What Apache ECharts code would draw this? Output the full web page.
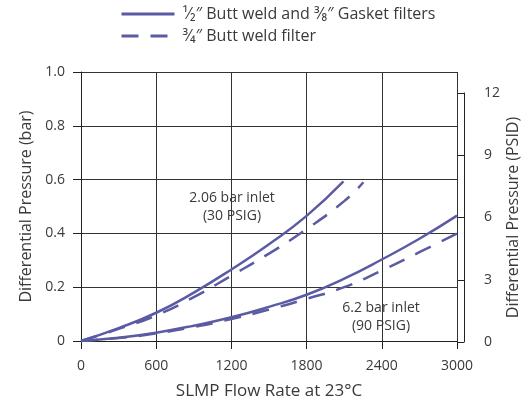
<!DOCTYPE html>
<html lang="en">
<head>
<meta charset="UTF-8">
<title>Differential Pressure vs Flow</title>
<style type="text/css">
	html, body { margin: 0; padding: 0; background: #fff; }
	#chart { width: 530px; height: 405px; }
</style>
</head>
<body>
<div id="chart"></div>
<script type="text/javascript" src="https://cdn.jsdelivr.net/npm/echarts@6/dist/echarts.min.js"></script>
<script type="text/javascript">
// legend names
var nameSolid = '¹⁄₂″ Butt weld and ³⁄₈″ Gasket filters';
var nameDashed = '³⁄₄″ Butt weld filter';

// 2.06 bar inlet (30 PSIG)
var low30Flow = [0, 300, 600, 900, 1200, 1500, 1800, 2094];
var low30Bar = [0, 0.048, 0.105, 0.18, 0.266, 0.36, 0.465, 0.593];
var low30DashFlow = [0, 300, 600, 900, 1200, 1500, 1800, 2100, 2253];
var low30DashBar = [0, 0.045, 0.095, 0.163, 0.243, 0.325, 0.416, 0.52, 0.59];

// 6.2 bar inlet (90 PSIG)
var high90Flow = [0, 300, 600, 900, 1200, 1500, 1800, 2100, 2400, 2700, 3000];
var high90Bar = [0, 0.012, 0.031, 0.057, 0.088, 0.127, 0.172, 0.232, 0.303, 0.38, 0.466];
var high90DashFlow = [0, 300, 600, 900, 1200, 1500, 1800, 2100, 2400, 2700, 3000];
var high90DashBar = [0, 0.011, 0.028, 0.052, 0.082, 0.117, 0.157, 0.2, 0.262, 0.33, 0.40];

var psidTicks = [0, 3, 6, 9, 12];

var lineColor = '#5b5ba3';
var textColor = '#3a3a3a';
var font = 'Open Sans';

function pairs(xs, ys) {
	var out = [];
	for (var i = 0; i < xs.length; i++) {
		out.push([xs[i], ys[i]]);
	}
	return out;
}

function curve(name, xs, ys, dashed) {
	return {
		name: name,
		type: 'line',
		xAxisIndex: 0,
		yAxisIndex: 0,
		smooth: true,
		symbol: 'none',
		data: pairs(xs, ys),
		lineStyle: { color: lineColor, width: 2.5, type: dashed ? [17, 12] : 'solid' },
		itemStyle: { color: lineColor }
	};
}

// centred annotation text
function label(text, x, y) {
	return {
		type: 'text',
		x: x,
		y: y,
		style: { text: text, fontSize: 14, fontFamily: font, fill: textColor, textAlign: 'center', textVerticalAlign: 'middle' }
	};
}

var myChart = echarts.init(document.getElementById('chart'));

var option = {
	animation: false,
	textStyle: { fontFamily: font, color: textColor },
	legend: {
		orient: 'vertical',
		left: 115,
		top: 1,
		itemWidth: 53,
		itemHeight: 14,
		itemGap: 6,
		itemStyle: { opacity: 0 },
		lineStyle: { width: 3 },
		data: [nameSolid, nameDashed],
		textStyle: { fontFamily: font, fontSize: 16, color: textColor, padding: [0, 0, 0, 3] }
	},
	grid: [
		{ left: 81, right: 73, top: 72, bottom: 63 },
		{ left: 464, right: 56, top: 93, bottom: 63 }
	],
	xAxis: [
		{
			type: 'value',
			gridIndex: 0,
			min: 0,
			max: 3000,
			interval: 600,
			name: 'SLMP Flow Rate at 23°C',
			nameLocation: 'middle',
			nameGap: 42,
			nameTextStyle: { fontSize: 17, color: textColor, fontFamily: font },
			axisLine: { lineStyle: { color: '#222', width: 1 } },
			axisTick: { length: 8, lineStyle: { color: '#222' } },
			axisLabel: { fontSize: 14, color: textColor, margin: 18, formatter: function (v) { return String(v); } },
			splitLine: { show: true, lineStyle: { color: '#333', width: 1 } }
		},
		{ type: 'value', gridIndex: 1, show: false, min: 0, max: 1 }
	],
	yAxis: [
		{
			type: 'value',
			gridIndex: 0,
			min: 0,
			max: 1,
			interval: 0.2,
			name: 'Differential Pressure (bar)',
			nameLocation: 'middle',
			nameGap: 47,
			nameTextStyle: { fontSize: 16, color: textColor, fontFamily: font },
			axisLine: { show: true, lineStyle: { color: '#222', width: 1 } },
			axisTick: { show: true, length: 8, lineStyle: { color: '#222' } },
			axisLabel: {
				fontSize: 14,
				color: textColor,
				margin: 16,
				formatter: function (v) { return v === 0 ? '0' : v.toFixed(1); }
			},
			splitLine: { show: true, lineStyle: { color: '#333', width: 1 } }
		},
		{
			type: 'value',
			gridIndex: 1,
			position: 'right',
			min: psidTicks[0],
			max: psidTicks[psidTicks.length - 1],
			interval: 3,
			name: 'Differential Pressure (PSID)',
			nameLocation: 'middle',
			nameGap: 31,
			nameRotate: 90,
			nameTextStyle: { fontSize: 16, color: textColor, fontFamily: font },
			axisLine: { show: true, lineStyle: { color: '#222', width: 1 } },
			axisTick: { show: true, inside: true, length: 6, lineStyle: { color: '#222' } },
			axisLabel: { fontSize: 14, color: textColor, margin: 10 },
			splitLine: { show: false }
		}
	],
	graphic: [
		label('2.06 bar inlet', 232, 198),
		label('(30 PSIG)', 232, 216),
		label('6.2 bar inlet', 381, 308),
		label('(90 PSIG)', 381, 326)
	],
	series: [
		curve(nameSolid, low30Flow, low30Bar, false),
		curve(nameDashed, low30DashFlow, low30DashBar, true),
		curve(nameSolid, high90Flow, high90Bar, false),
		curve(nameDashed, high90DashFlow, high90DashBar, true)
	]
};

myChart.setOption(option);
</script>
</body>
</html>
